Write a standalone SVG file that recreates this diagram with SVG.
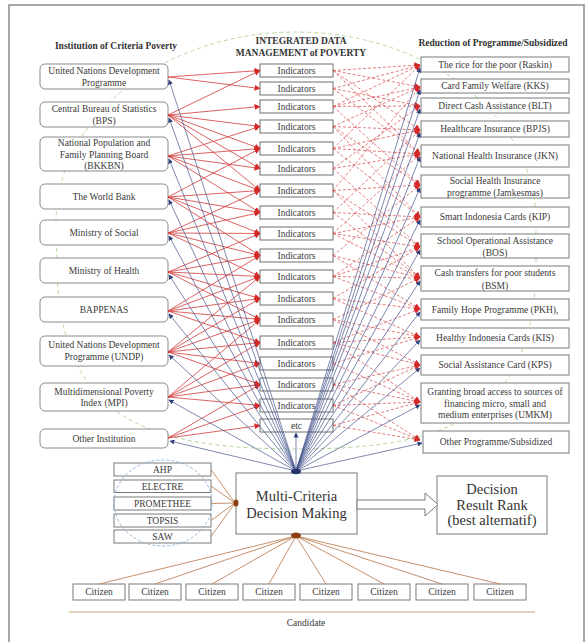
<svg xmlns="http://www.w3.org/2000/svg" width="587" height="642" viewBox="0 0 587 642">
<defs>
<marker id="ar" markerUnits="userSpaceOnUse" markerWidth="6" markerHeight="6" refX="5.5" refY="3" orient="auto"><path d="M0,0 L6,3 L0,6 z" fill="#d42a2a"/></marker>
<marker id="ab" markerUnits="userSpaceOnUse" markerWidth="5" markerHeight="5" refX="4.5" refY="2.5" orient="auto"><path d="M0,0 L5,2.5 L0,5 z" fill="#2f3f7a"/></marker>
</defs>
<style>
.t{font-family:"Liberation Serif","Times New Roman",serif;font-size:9.5px;fill:#3a3a3a;text-anchor:middle}
.h{font-weight:bold;fill:#333}
.big{font-size:14.5px;fill:#333}
.ln{fill:#fff;stroke:#8a8a8a;stroke-width:1}
.ib{fill:#fff;stroke:#6e6e6e;stroke-width:1}
.rb{fill:#fff;stroke:#7a7a7a;stroke-width:1}
.r{stroke:#d43a3a;stroke-width:0.8;marker-end:url(#ar)}
.rd{stroke:#d64545;stroke-width:0.7;stroke-dasharray:3 2;marker-end:url(#ar)}
.b{stroke:#45558c;stroke-width:0.7;marker-end:url(#ab)}
.br{stroke:#c0855a;stroke-width:0.9}
</style>
<rect x="9" y="5" width="575" height="645" fill="#fff" stroke="#8c8c8c" stroke-width="1.5"/>
<path d="M 56 222 A 240 190 0 0 1 536 222 L 536 262 C 536 420 442 449 296 449 C 150 449 57 420 57 262 Z" fill="none" stroke="#b5d99c" stroke-width="1" stroke-dasharray="4 3"/>

<text class="t h" x="116" y="49">Institution of Criteria Poverty</text>
<text class="t h" x="301" y="44">INTEGRATED DATA</text>
<text class="t h" x="301" y="56">MANAGEMENT of POVERTY</text>
<text class="t h" x="493" y="46">Reduction of Programme/Subsidized</text>

<g id="inst1"><rect class="ln" x="40" y="64" width="128" height="25" rx="5"/><text class="t" x="104" y="74">United Nations Development</text><text class="t" x="104" y="85.5">Programme</text></g>
<g id="inst2"><rect class="ln" x="40" y="102" width="128" height="25" rx="5"/><text class="t" x="104" y="112">Central Bureau of Statistics</text><text class="t" x="104" y="124">(BPS)</text></g>
<g id="inst3"><rect class="ln" x="40" y="137" width="128" height="34" rx="5"/><text class="t" x="104" y="146.3">National Population and</text><text class="t" x="104" y="157.8">Family Planning Board</text><text class="t" x="104" y="169.3">(BKKBN)</text></g>
<g id="inst4"><rect class="ln" x="40" y="184" width="128" height="25" rx="5"/><text class="t" x="104" y="199.8">The World Bank</text></g>
<g id="inst5"><rect class="ln" x="40" y="220" width="128" height="25" rx="5"/><text class="t" x="104" y="235.8">Ministry of Social</text></g>
<g id="inst6"><rect class="ln" x="40" y="258" width="128" height="25" rx="5"/><text class="t" x="104" y="273.8">Ministry of Health</text></g>
<g id="inst7"><rect class="ln" x="40" y="297" width="128" height="25" rx="5"/><text class="t" x="104" y="312.8">BAPPENAS</text></g>
<g id="inst8"><rect class="ln" x="40" y="336" width="128" height="30" rx="5"/><text class="t" x="104" y="348.3">United Nations Development</text><text class="t" x="104" y="359.5">Programme (UNDP)</text></g>
<g id="inst9"><rect class="ln" x="40" y="383" width="128" height="28" rx="5"/><text class="t" x="104" y="395">Multidimensional Poverty</text><text class="t" x="104" y="406.3">Index (MPI)</text></g>
<g id="inst10"><rect class="ln" x="40" y="429" width="128" height="19" rx="5"/><text class="t" x="104" y="442">Other Institution</text></g>

<g id="ind1"><rect class="ib" x="260" y="64" width="73" height="13"/><text class="t" x="296.5" y="73.8">Indicators</text></g>
<g id="ind2"><rect class="ib" x="260" y="82" width="73" height="13"/><text class="t" x="296.5" y="91.8">Indicators</text></g>
<g id="ind3"><rect class="ib" x="260" y="100" width="73" height="13"/><text class="t" x="296.5" y="109.8">Indicators</text></g>
<g id="ind4"><rect class="ib" x="260" y="120" width="73" height="13"/><text class="t" x="296.5" y="129.8">Indicators</text></g>
<g id="ind5"><rect class="ib" x="260" y="142" width="73" height="13"/><text class="t" x="296.5" y="151.8">Indicators</text></g>
<g id="ind6"><rect class="ib" x="260" y="162" width="73" height="13"/><text class="t" x="296.5" y="171.8">Indicators</text></g>
<g id="ind7"><rect class="ib" x="260" y="184" width="73" height="13"/><text class="t" x="296.5" y="193.8">Indicators</text></g>
<g id="ind8"><rect class="ib" x="260" y="206" width="73" height="13"/><text class="t" x="296.5" y="215.8">Indicators</text></g>
<g id="ind9"><rect class="ib" x="260" y="227" width="73" height="13"/><text class="t" x="296.5" y="236.8">Indicators</text></g>
<g id="ind10"><rect class="ib" x="260" y="249" width="73" height="13"/><text class="t" x="296.5" y="258.8">Indicators</text></g>
<g id="ind11"><rect class="ib" x="260" y="270" width="73" height="13"/><text class="t" x="296.5" y="279.8">Indicators</text></g>
<g id="ind12"><rect class="ib" x="260" y="292" width="73" height="13"/><text class="t" x="296.5" y="301.8">Indicators</text></g>
<g id="ind13"><rect class="ib" x="260" y="313" width="73" height="13"/><text class="t" x="296.5" y="322.8">Indicators</text></g>
<g id="ind14"><rect class="ib" x="260" y="336" width="73" height="13"/><text class="t" x="296.5" y="345.8">Indicators</text></g>
<g id="ind15"><rect class="ib" x="260" y="357" width="73" height="13"/><text class="t" x="296.5" y="366.8">Indicators</text></g>
<g id="ind16"><rect class="ib" x="260" y="378" width="73" height="13"/><text class="t" x="296.5" y="387.8">Indicators</text></g>
<g id="ind17"><rect class="ib" x="260" y="399" width="73" height="13"/><text class="t" x="296.5" y="408.8">Indicators</text></g>
<g id="indetc"><rect class="ib" x="260" y="419" width="73" height="13"/><text class="t" x="296.5" y="428.8">etc</text></g>

<g id="prog1"><rect class="rb" x="421" y="57" width="148" height="15"/><text class="t" x="495" y="67.8">The rice for the poor (Raskin)</text></g>
<g id="prog2"><rect class="rb" x="421" y="79" width="148" height="14"/><text class="t" x="495" y="89.3">Card Family Welfare  (KKS)</text></g>
<g id="prog3"><rect class="rb" x="421" y="98" width="148" height="15"/><text class="t" x="495" y="108.8">Direct Cash Assistance (BLT)</text></g>
<g id="prog4"><rect class="rb" x="421" y="121" width="148" height="16"/><text class="t" x="495" y="132.3">Healthcare Insurance (BPJS)</text></g>
<g id="prog5"><rect class="rb" x="421" y="145" width="148" height="22"/><text class="t" x="495" y="159.3">National Health Insurance (JKN)</text></g>
<g id="prog6"><rect class="rb" x="421" y="175" width="148" height="23"/><text class="t" x="495" y="184.3">Social Health Insurance</text><text class="t" x="495" y="195.5">programme (Jamkesmas)</text></g>
<g id="prog7"><rect class="rb" x="421" y="207" width="148" height="20"/><text class="t" x="495" y="220.3">Smart Indonesia Cards (KIP)</text></g>
<g id="prog8"><rect class="rb" x="421" y="234" width="148" height="24"/><text class="t" x="495" y="244">School Operational Assistance</text><text class="t" x="495" y="255.8">(BOS)</text></g>
<g id="prog9"><rect class="rb" x="421" y="266" width="148" height="25"/><text class="t" x="495" y="276">Cash transfers for poor students</text><text class="t" x="495" y="288.6">(BSM)</text></g>
<g id="prog10"><rect class="rb" x="421" y="299" width="148" height="21"/><text class="t" x="495" y="312.8">Family Hope Programme (PKH),</text></g>
<g id="prog11"><rect class="rb" x="421" y="328" width="148" height="20"/><text class="t" x="495" y="341.3">Healthy Indonesia Cards (KIS)</text></g>
<g id="prog12"><rect class="rb" x="421" y="355" width="148" height="20"/><text class="t" x="495" y="368.3">Social Assistance Card (KPS)</text></g>
<g id="prog13"><rect class="rb" x="421" y="383" width="148" height="40"/><text class="t" x="495" y="395">Granting broad access to sources of</text><text class="t" x="495" y="406.6">financing micro, small and</text><text class="t" x="495" y="417.8">medium enterprises (UMKM)</text></g>
<g id="prog14"><rect class="rb" x="423" y="431" width="146" height="22"/><text class="t" x="496" y="445.3">Other Programme/Subsidized</text></g>

<g id="mcdm"><rect class="rb" x="236" y="473" width="121" height="61"/><text class="t big" x="296.5" y="501">Multi-Criteria</text><text class="t big" x="296.5" y="518">Decision Making</text></g>
<g id="result"><rect class="rb" x="437" y="476" width="110" height="58"/><text class="t big" x="492" y="493.5">Decision</text><text class="t big" x="492" y="509.5">Result Rank</text><text class="t big" x="492" y="525">(best alternatif)</text></g>

<g id="m-ahp"><rect class="rb" x="114" y="463" width="97" height="13"/><text class="t" x="162.5" y="473" fill="#444">AHP</text></g>
<g id="m-electre"><rect class="rb" x="114" y="480" width="97" height="12.5"/><text class="t" x="162.5" y="489.8">ELECTRE</text></g>
<g id="m-promethee"><rect class="rb" x="114" y="497" width="97" height="13"/><text class="t" x="162.5" y="507">PROMETHEE</text></g>
<g id="m-topsis"><rect class="rb" x="114" y="514" width="97" height="13"/><text class="t" x="162.5" y="524">TOPSIS</text></g>
<g id="m-saw"><rect class="rb" x="114" y="530" width="97" height="13"/><text class="t" x="162.5" y="540">SAW</text></g>
<ellipse cx="163" cy="503" rx="49" ry="43" fill="none" stroke="#8ab0d8" stroke-width="0.9" stroke-dasharray="3 2"/>

<g id="cit1"><rect class="rb" x="73" y="584" width="52" height="16"/><text class="t" x="99" y="595">Citizen</text></g>
<g id="cit2"><rect class="rb" x="129" y="584" width="52" height="16"/><text class="t" x="155" y="595">Citizen</text></g>
<g id="cit3"><rect class="rb" x="186" y="584" width="52" height="16"/><text class="t" x="212" y="595">Citizen</text></g>
<g id="cit4"><rect class="rb" x="243" y="584" width="52" height="16"/><text class="t" x="269" y="595">Citizen</text></g>
<g id="cit5"><rect class="rb" x="300" y="584" width="52" height="16"/><text class="t" x="326" y="595">Citizen</text></g>
<g id="cit6"><rect class="rb" x="358" y="584" width="52" height="16"/><text class="t" x="384" y="595">Citizen</text></g>
<g id="cit7"><rect class="rb" x="416" y="584" width="52" height="16"/><text class="t" x="442" y="595">Citizen</text></g>
<g id="cit8"><rect class="rb" x="474" y="584" width="52" height="16"/><text class="t" x="500" y="595">Citizen</text></g>
<g id="candidate"><line x1="69" y1="612" x2="535" y2="612" stroke="#dcc0a4" stroke-width="1.3"/><text class="t" x="306" y="626">Candidate</text></g>

<g id="connectors">
<line class="r" x1="168" y1="77" x2="260" y2="70.5"/><line class="r" x1="168" y1="77" x2="260" y2="88.5"/>
<line class="r" x1="168" y1="115" x2="260" y2="70.5"/><line class="r" x1="168" y1="115" x2="260" y2="106.5"/><line class="r" x1="168" y1="115" x2="260" y2="126.5"/><line class="r" x1="168" y1="115" x2="260" y2="148.5"/><line class="r" x1="168" y1="115" x2="260" y2="168.5"/><line class="r" x1="168" y1="115" x2="260" y2="190.5"/>
<line class="r" x1="168" y1="156" x2="260" y2="126.5"/><line class="r" x1="168" y1="156" x2="260" y2="148.5"/><line class="r" x1="168" y1="156" x2="260" y2="168.5"/><line class="r" x1="168" y1="156" x2="260" y2="190.5"/><line class="r" x1="168" y1="156" x2="260" y2="212.5"/>
<line class="r" x1="168" y1="197" x2="260" y2="148.5"/><line class="r" x1="168" y1="197" x2="260" y2="190.5"/><line class="r" x1="168" y1="197" x2="260" y2="212.5"/><line class="r" x1="168" y1="197" x2="260" y2="233.5"/><line class="r" x1="168" y1="197" x2="260" y2="255.5"/>
<line class="r" x1="168" y1="233" x2="260" y2="190.5"/><line class="r" x1="168" y1="233" x2="260" y2="212.5"/><line class="r" x1="168" y1="233" x2="260" y2="233.5"/><line class="r" x1="168" y1="233" x2="260" y2="255.5"/><line class="r" x1="168" y1="233" x2="260" y2="276.5"/>
<line class="r" x1="168" y1="272" x2="260" y2="233.5"/><line class="r" x1="168" y1="272" x2="260" y2="255.5"/><line class="r" x1="168" y1="272" x2="260" y2="276.5"/><line class="r" x1="168" y1="272" x2="260" y2="298.5"/><line class="r" x1="168" y1="272" x2="260" y2="319.5"/>
<line class="r" x1="168" y1="311" x2="260" y2="255.5"/><line class="r" x1="168" y1="311" x2="260" y2="276.5"/><line class="r" x1="168" y1="311" x2="260" y2="298.5"/><line class="r" x1="168" y1="311" x2="260" y2="319.5"/><line class="r" x1="168" y1="311" x2="260" y2="342.5"/>
<line class="r" x1="168" y1="352" x2="260" y2="276.5"/><line class="r" x1="168" y1="352" x2="260" y2="298.5"/><line class="r" x1="168" y1="352" x2="260" y2="319.5"/><line class="r" x1="168" y1="352" x2="260" y2="342.5"/><line class="r" x1="168" y1="352" x2="260" y2="363.5"/><line class="r" x1="168" y1="352" x2="260" y2="384.5"/>
<line class="r" x1="168" y1="397" x2="260" y2="319.5"/><line class="r" x1="168" y1="397" x2="260" y2="342.5"/><line class="r" x1="168" y1="397" x2="260" y2="363.5"/><line class="r" x1="168" y1="397" x2="260" y2="384.5"/><line class="r" x1="168" y1="397" x2="260" y2="405.5"/>
<line class="r" x1="168" y1="438" x2="260" y2="384.5"/><line class="r" x1="168" y1="438" x2="260" y2="405.5"/><line class="r" x1="168" y1="438" x2="260" y2="425.5"/>

<line class="rd" x1="333" y1="70.5" x2="420" y2="65"/><line class="rd" x1="333" y1="70.5" x2="420" y2="87"/><line class="rd" x1="333" y1="70.5" x2="420" y2="130"/><line class="rd" x1="333" y1="70.5" x2="420" y2="154"/>
<line class="rd" x1="333" y1="88.5" x2="420" y2="65"/><line class="rd" x1="333" y1="88.5" x2="420" y2="106"/><line class="rd" x1="333" y1="88.5" x2="420" y2="154"/>
<line class="rd" x1="333" y1="106.5" x2="420" y2="65"/><line class="rd" x1="333" y1="106.5" x2="420" y2="87"/><line class="rd" x1="333" y1="106.5" x2="420" y2="106"/><line class="rd" x1="333" y1="106.5" x2="420" y2="185"/>
<line class="rd" x1="333" y1="126.5" x2="420" y2="87"/><line class="rd" x1="333" y1="126.5" x2="420" y2="130"/><line class="rd" x1="333" y1="126.5" x2="420" y2="185"/><line class="rd" x1="333" y1="126.5" x2="420" y2="217"/>
<line class="rd" x1="333" y1="148.5" x2="420" y2="65"/><line class="rd" x1="333" y1="148.5" x2="420" y2="130"/><line class="rd" x1="333" y1="148.5" x2="420" y2="154"/><line class="rd" x1="333" y1="148.5" x2="420" y2="217"/>
<line class="rd" x1="333" y1="168.5" x2="420" y2="106"/><line class="rd" x1="333" y1="168.5" x2="420" y2="154"/><line class="rd" x1="333" y1="168.5" x2="420" y2="247"/>
<line class="rd" x1="333" y1="190.5" x2="420" y2="87"/><line class="rd" x1="333" y1="190.5" x2="420" y2="185"/><line class="rd" x1="333" y1="190.5" x2="420" y2="247"/><line class="rd" x1="333" y1="190.5" x2="420" y2="278"/>
<line class="rd" x1="333" y1="212.5" x2="420" y2="130"/><line class="rd" x1="333" y1="212.5" x2="420" y2="217"/><line class="rd" x1="333" y1="212.5" x2="420" y2="278"/>
<line class="rd" x1="333" y1="233.5" x2="420" y2="154"/><line class="rd" x1="333" y1="233.5" x2="420" y2="217"/><line class="rd" x1="333" y1="233.5" x2="420" y2="247"/><line class="rd" x1="333" y1="233.5" x2="420" y2="278"/>
<line class="rd" x1="333" y1="255.5" x2="420" y2="185"/><line class="rd" x1="333" y1="255.5" x2="420" y2="278"/><line class="rd" x1="333" y1="255.5" x2="420" y2="309"/>
<line class="rd" x1="333" y1="276.5" x2="420" y2="217"/><line class="rd" x1="333" y1="276.5" x2="420" y2="247"/><line class="rd" x1="333" y1="276.5" x2="420" y2="278"/><line class="rd" x1="333" y1="276.5" x2="420" y2="309"/>
<line class="rd" x1="333" y1="298.5" x2="420" y2="247"/><line class="rd" x1="333" y1="298.5" x2="420" y2="309"/><line class="rd" x1="333" y1="298.5" x2="420" y2="337"/>
<line class="rd" x1="333" y1="319.5" x2="420" y2="278"/><line class="rd" x1="333" y1="319.5" x2="420" y2="337"/><line class="rd" x1="333" y1="319.5" x2="420" y2="365"/>
<line class="rd" x1="333" y1="342.5" x2="420" y2="309"/><line class="rd" x1="333" y1="342.5" x2="420" y2="337"/><line class="rd" x1="333" y1="342.5" x2="420" y2="365"/><line class="rd" x1="333" y1="342.5" x2="420" y2="402"/>
<line class="rd" x1="333" y1="363.5" x2="420" y2="337"/><line class="rd" x1="333" y1="363.5" x2="420" y2="402"/>
<line class="rd" x1="333" y1="384.5" x2="420" y2="365"/><line class="rd" x1="333" y1="384.5" x2="420" y2="402"/><line class="rd" x1="333" y1="384.5" x2="420" y2="440"/>
<line class="rd" x1="333" y1="405.5" x2="420" y2="365"/><line class="rd" x1="333" y1="405.5" x2="420" y2="402"/><line class="rd" x1="333" y1="405.5" x2="420" y2="440"/>
<line class="rd" x1="333" y1="425.5" x2="420" y2="402"/><line class="rd" x1="333" y1="425.5" x2="420" y2="440"/>

<line class="b" x1="296" y1="471" x2="169" y2="80"/><line class="b" x1="296" y1="471" x2="169" y2="118"/><line class="b" x1="296" y1="471" x2="169" y2="159"/><line class="b" x1="296" y1="471" x2="169" y2="200"/><line class="b" x1="296" y1="471" x2="169" y2="236"/><line class="b" x1="296" y1="471" x2="169" y2="275"/><line class="b" x1="296" y1="471" x2="169" y2="314"/><line class="b" x1="296" y1="471" x2="169" y2="355"/><line class="b" x1="296" y1="471" x2="169" y2="400"/><line class="b" x1="296" y1="471" x2="170" y2="441"/>
<line class="b" x1="296" y1="471" x2="420" y2="68"/><line class="b" x1="296" y1="471" x2="420" y2="90"/><line class="b" x1="296" y1="471" x2="420" y2="109"/><line class="b" x1="296" y1="471" x2="420" y2="133"/><line class="b" x1="296" y1="471" x2="420" y2="157"/><line class="b" x1="296" y1="471" x2="420" y2="188"/><line class="b" x1="296" y1="471" x2="420" y2="220"/><line class="b" x1="296" y1="471" x2="420" y2="250"/><line class="b" x1="296" y1="471" x2="420" y2="281"/><line class="b" x1="296" y1="471" x2="420" y2="312"/><line class="b" x1="296" y1="471" x2="420" y2="340"/><line class="b" x1="296" y1="471" x2="420" y2="368"/><line class="b" x1="296" y1="471" x2="420" y2="405"/><line class="b" x1="296" y1="471" x2="422" y2="443"/>
<line class="b" x1="296" y1="471" x2="296" y2="433"/>
<ellipse cx="296" cy="471.5" rx="5" ry="2.8" fill="#26356e"/>

<line class="br" x1="211" y1="469.5" x2="235" y2="503"/><line class="br" x1="211" y1="486" x2="235" y2="503"/><line class="br" x1="211" y1="503.5" x2="235" y2="503"/><line class="br" x1="211" y1="520.5" x2="235" y2="503"/><line class="br" x1="211" y1="536.5" x2="235" y2="503"/>
<ellipse cx="236" cy="503" rx="2.5" ry="3.5" fill="#8e3f12"/>
<line class="br" x1="296" y1="536" x2="99" y2="584"/><line class="br" x1="296" y1="536" x2="155" y2="584"/><line class="br" x1="296" y1="536" x2="212" y2="584"/><line class="br" x1="296" y1="536" x2="269" y2="584"/><line class="br" x1="296" y1="536" x2="326" y2="584"/><line class="br" x1="296" y1="536" x2="384" y2="584"/><line class="br" x1="296" y1="536" x2="442" y2="584"/><line class="br" x1="296" y1="536" x2="500" y2="584"/>
<ellipse cx="296" cy="535.5" rx="5" ry="3" fill="#8e3f12"/>

<polygon points="357,500 425,500 425,493 438,504.5 425,516 425,509 357,509" fill="#fff" stroke="#777" stroke-width="1"/>
</g>
</svg>
